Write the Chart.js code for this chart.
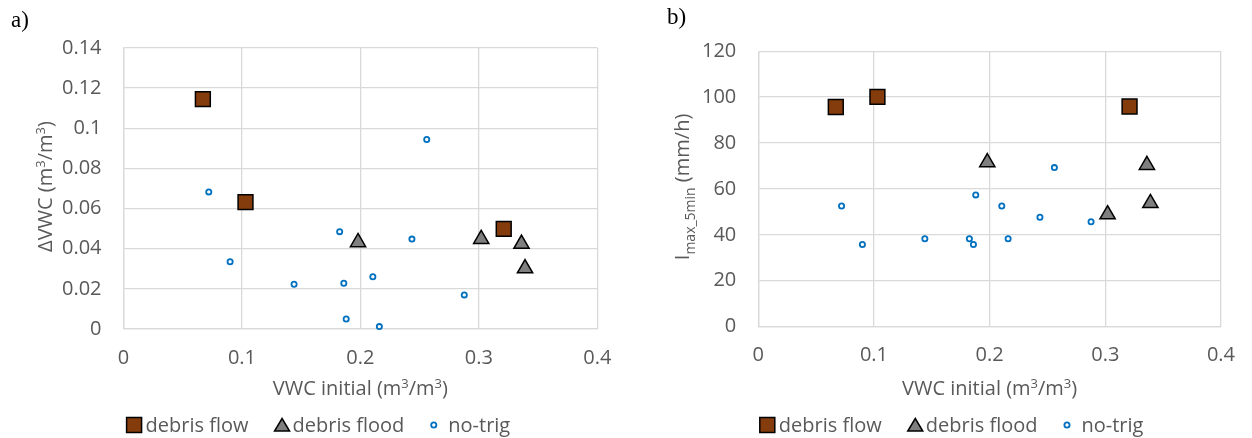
<!DOCTYPE html>
<html>
<head>
<meta charset="utf-8">
<script src="https://cdn.jsdelivr.net/npm/chart.js@4/dist/chart.umd.min.js"></script>
<style>
  body { margin: 0; background: #fff; width: 1252px; height: 438px; overflow: hidden; position: relative; }
  canvas { position: absolute; top: 0; }
  #chartA { left: 0; }
  #chartB { left: 640px; }
</style>
</head>
<body>
<canvas id="chartA" width="640" height="438"></canvas>
<canvas id="chartB" width="612" height="438"></canvas>
<script>
// values
const flowVwc = [0.067, 0.103, 0.321];
const flowDelta = [0.1145, 0.0632, 0.0499];
const flowImax = [95.7, 100.1, 95.9];

const floodVwc = [0.198, 0.302, 0.336, 0.339];
const floodDelta = [0.0432, 0.0448, 0.0424, 0.0302];
const floodImax = [71.6, 48.9, 70.4, 53.8];

const noTrigVwc = [0.072, 0.090, 0.144, 0.1825, 0.186, 0.188, 0.2105, 0.216, 0.2435, 0.256, 0.2877];
const noTrigDelta = [0.0683, 0.0335, 0.0223, 0.0485, 0.0228, 0.005, 0.026, 0.0012, 0.0448, 0.0944, 0.017];
const noTrigImax = [52.6, 35.8, 38.3, 38.3, 35.8, 57.4, 52.6, 38.3, 47.7, 69.3, 45.7];

const seriesNames = ['debris flow', 'debris flood', 'no-trig'];

const xTicks = [0, 0.1, 0.2, 0.3, 0.4];
const xTickLabels = ['0', '0.1', '0.2', '0.3', '0.4'];
const deltaTicks = [0, 0.02, 0.04, 0.06, 0.08, 0.1, 0.12, 0.14];
const deltaTickLabels = ['0', '0.02', '0.04', '0.06', '0.08', '0.1', '0.12', '0.14'];
const imaxTicks = [0, 20, 40, 60, 80, 100, 120];
const imaxTickLabels = ['0', '20', '40', '60', '80', '100', '120'];

const textGray = '#595959';
const gridGray = '#d9d9d9';
const fontFamily = "'Open Sans', 'Noto Sans', sans-serif";

function pts(xs, ys) {
    return xs.map((x, i) => ({ x: x, y: ys[i] }));
}

function fontFor(kind) {
    if (kind === 'sub') return '14px ' + fontFamily;
    return (kind ? '13px ' : '20px ') + fontFamily;
}

// text with super/subscripts, centred on (x, y) along its own direction, y = baseline
function drawRich(ctx, parts, x, y, rotate) {
    ctx.save();
    ctx.translate(x, y);
    if (rotate) ctx.rotate(-Math.PI / 2);
    ctx.fillStyle = textGray;
    ctx.textAlign = 'left';
    ctx.textBaseline = 'alphabetic';
    let total = 0;
    parts.forEach(p => { ctx.font = fontFor(p[1]); total += ctx.measureText(p[0]).width; });
    let cx = -total / 2;
    parts.forEach(p => {
        ctx.font = fontFor(p[1]);
        const dy = p[1] === 'sup' ? -7 : (p[1] === 'sub' ? 6 : 0);
        ctx.fillText(p[0], cx, dy);
        cx += ctx.measureText(p[0]).width;
    });
    ctx.restore();
}

function drawMarker(ctx, kind, x, y) {
    ctx.save();
    ctx.lineWidth = 1.5;
    ctx.strokeStyle = '#000';
    ctx.beginPath();
    if (kind === 'rect') {
        ctx.fillStyle = '#843C0C';
        ctx.rect(x - 7.5, y - 7.5, 15, 15);
    } else if (kind === 'triangle') {
        ctx.fillStyle = '#7F7F7F';
        ctx.moveTo(x, y - 6.5);
        ctx.lineTo(x + 7.5, y + 6);
        ctx.lineTo(x - 7.5, y + 6);
        ctx.closePath();
    } else {
        ctx.fillStyle = '#fff';
        ctx.strokeStyle = '#0070C0';
        ctx.lineWidth = 1.8;
        ctx.arc(x, y, 2.6, 0, Math.PI * 2);
    }
    ctx.fill();
    ctx.stroke();
    ctx.restore();
}

const extrasPlugin = {
    id: 'extras',
    afterDraw(chart, args, opts) {
        const ctx = chart.ctx;
        const area = chart.chartArea;
        const mid = (area.left + area.right) / 2;

        // panel letter
        ctx.save();
        ctx.fillStyle = '#000';
        ctx.font = "23px 'Liberation Serif', serif";
        ctx.textBaseline = 'alphabetic';
        ctx.fillText(opts.panel, opts.panelX, opts.panelY);
        ctx.restore();

        // axis titles
        drawRich(ctx, opts.xTitle, mid, 395, false);
        drawRich(ctx, opts.yTitle, opts.yTitleX, (area.top + area.bottom) / 2 - 2, true);

        // legend
        const kinds = ['rect', 'triangle', 'circle'];
        const markW = [15, 15, 7];
        const afterMark = [4, 3, 11];
        const gapNext = 26;
        ctx.save();
        ctx.font = fontFor('');
        const widths = seriesNames.map(s => ctx.measureText(s).width);
        let total = 0;
        seriesNames.forEach((s, i) => {
            total += markW[i] + afterMark[i] + widths[i] + (i < 2 ? gapNext : 0);
        });
        let lx = mid + opts.legendShift - total / 2;
        const ly = 425;
        seriesNames.forEach((s, i) => {
            drawMarker(ctx, kinds[i], lx + markW[i] / 2, ly);
            lx += markW[i] + afterMark[i];
            ctx.fillStyle = textGray;
            ctx.textBaseline = 'middle';
            ctx.fillText(s, lx, ly + 1);
            lx += widths[i] + gapNext;
        });
        ctx.restore();
    }
};

function makeChart(id, cfg) {
    const tickFont = { family: fontFamily, size: 20 };
    new Chart(document.getElementById(id), {
        type: 'scatter',
        data: {
            datasets: [
                {
                    label: seriesNames[0],
                    data: pts(flowVwc, cfg.flow),
                    pointStyle: 'rect',
                    pointRadius: 10.5,
                    backgroundColor: '#843C0C',
                    borderColor: '#000',
                    borderWidth: 1.5,
                    clip: false
                },
                {
                    label: seriesNames[1],
                    data: pts(floodVwc, cfg.flood),
                    pointStyle: 'triangle',
                    pointRadius: 8.8,
                    backgroundColor: '#7F7F7F',
                    borderColor: '#000',
                    borderWidth: 1.5,
                    clip: false
                },
                {
                    label: seriesNames[2],
                    data: pts(noTrigVwc, cfg.noTrig),
                    pointStyle: 'circle',
                    pointRadius: 2.6,
                    backgroundColor: '#fff',
                    borderColor: '#0070C0',
                    borderWidth: 1.8,
                    clip: false
                }
            ]
        },
        options: {
            responsive: false,
            animation: false,
            events: [],
            layout: { padding: { top: cfg.top, right: cfg.right, left: 0, bottom: 0 } },
            plugins: {
                legend: { display: false },
                tooltip: { enabled: false },
                extras: cfg.extras
            },
            scales: {
                x: {
                    type: 'linear',
                    min: 0,
                    max: 0.4,
                    afterBuildTicks: s => { s.ticks = xTicks.map(v => ({ value: v })); },
                    afterFit: s => { s.height = cfg.xHeight; },
                    ticks: {
                        callback: (v, i) => xTickLabels[i],
                        font: tickFont,
                        color: textGray,
                        padding: 17,
                        maxRotation: 0,
                        autoSkip: false
                    },
                    grid: { color: gridGray, lineWidth: 1.3, drawTicks: false },
                    border: { color: gridGray, width: 1.3 }
                },
                y: {
                    type: 'linear',
                    min: cfg.yTicks[0],
                    max: cfg.yTicks[cfg.yTicks.length - 1],
                    afterBuildTicks: s => { s.ticks = cfg.yTicks.map(v => ({ value: v })); },
                    afterFit: s => { s.width = cfg.yWidth; },
                    ticks: {
                        callback: (v, i) => cfg.yLabels[i],
                        font: tickFont,
                        color: textGray,
                        padding: 22,
                        autoSkip: false
                    },
                    grid: { color: gridGray, lineWidth: 1.3, drawTicks: false },
                    border: { color: gridGray, width: 1.3 }
                }
            }
        },
        plugins: [extrasPlugin]
    });
}

const xTitleParts = [['VWC initial (m', ''], ['3', 'sup'], ['/m', ''], ['3', 'sup'], [')', '']];

makeChart('chartA', {
    flow: flowDelta,
    flood: floodDelta,
    noTrig: noTrigDelta,
    yTicks: deltaTicks,
    yLabels: deltaTickLabels,
    top: 48,
    right: 42.7,
    yWidth: 123.5,
    xHeight: 109,
    extras: {
        panel: 'a)', panelX: 11, panelY: 27,
        xTitle: xTitleParts,
        yTitle: [['\u0394VWC (m', ''], ['3', 'sup'], ['/m', ''], ['3', 'sup'], [')', '']],
        yTitleX: 52,
        legendShift: -42
    }
});

makeChart('chartB', {
    flow: flowImax,
    flood: floodImax,
    noTrig: noTrigImax,
    yTicks: imaxTicks,
    yLabels: imaxTickLabels,
    top: 51.2,
    right: 24.3,
    yWidth: 118.3,
    xHeight: 111.3,
    extras: {
        panel: 'b)', panelX: 27, panelY: 24,
        xTitle: xTitleParts,
        yTitle: [['I', ''], ['max_5min', 'sub'], [' (mm/h)', '']],
        yTitleX: 49,
        legendShift: -38
    }
});
</script>
</body>
</html>
